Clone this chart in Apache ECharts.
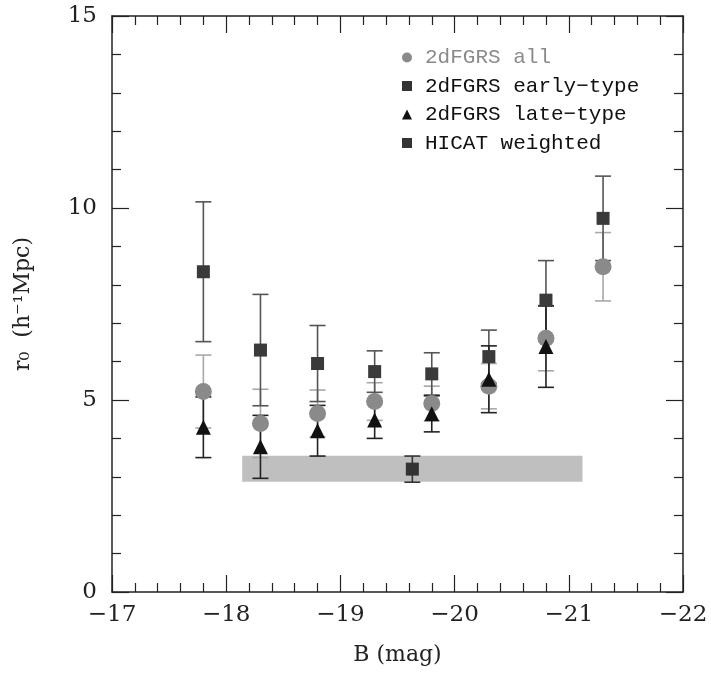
<!DOCTYPE html>
<html>
<head>
<meta charset="utf-8">
<script src="https://cdn.jsdelivr.net/npm/echarts@6/dist/echarts.min.js"></script>
<style>html,body{margin:0;padding:0;background:#fff}#c{width:711px;height:678px}</style>
</head>
<body>
<div id="c"></div>
<script>
// ---- data ----
const mags      = [-17.8, -18.3, -18.8, -19.3, -19.8, -20.3, -20.8, -21.3];
const allR0     = [5.22, 4.39, 4.65, 4.96, 4.91, 5.36, 6.61, 8.47];
const allErr    = [0.95, 0.89, 0.61, 0.49, 0.45, 0.59, 0.85, 0.89];
const earlyR0   = [8.34, 6.30, 5.95, 5.74, 5.68, 6.13, 7.60, 9.73];
const earlyErr  = [1.82, 1.45, 0.99, 0.54, 0.55, 0.69, 1.03, 1.10];
const lateMags  = [-17.8, -18.3, -18.8, -19.3, -19.8, -20.3, -20.8];
const lateR0    = [4.29, 3.78, 4.20, 4.48, 4.64, 5.54, 6.39];
const lateErr   = [0.79, 0.82, 0.66, 0.48, 0.47, 0.87, 1.06];
const hicatMag  = [-19.63];
const hicatR0   = [3.20];
const hicatErr  = [0.34];
const bandMag   = [-18.14, -21.12];
const bandR0    = [2.87, 3.55];
const xTicks    = [-17, -18, -19, -20, -21, -22];
const yTicks    = [0, 5, 10, 15];
const legendNames = ['2dFGRS all', '2dFGRS early\u2212type', '2dFGRS late\u2212type', 'HICAT weighted'];

const chart = echarts.init(document.getElementById('c'), null, {renderer: 'canvas'});

function errSeries(xs, ys, es, color, z) {
  return {
    type: 'custom', z: z, silent: true,
    data: xs.map((x, i) => [x, ys[i], es[i]]),
    renderItem: function (params, api) {
      const x = api.value(0), y = api.value(1), e = api.value(2);
      const t = api.coord([x, y + e]), b = api.coord([x, y - e]);
      const hw = 8;
      const st = {stroke: color, lineWidth: 1.6};
      return {type: 'group', children: [
        {type: 'line', shape: {x1: t[0], y1: t[1], x2: b[0], y2: b[1]}, style: st},
        {type: 'line', shape: {x1: t[0] - hw, y1: t[1], x2: t[0] + hw, y2: t[1]}, style: st},
        {type: 'line', shape: {x1: b[0] - hw, y1: b[1], x2: b[0] + hw, y2: b[1]}, style: st}
      ]};
    }
  };
}

const serif = 'DejaVu Serif';
const mono = 'Liberation Mono';
const minusFmt = v => String(v).replace('-', '\u2212');

function axisCommon(showLabels) {
  return {
    axisLine: {show: true, onZero: false, lineStyle: {color: '#222', width: 1.5}},
    axisTick: {show: true, inside: true, length: 17, lineStyle: {color: '#222', width: 1.2}},
    minorTick: {show: true, splitNumber: 5, length: 9, lineStyle: {color: '#222', width: 1.2}},
    splitLine: {show: false},
    axisLabel: {show: showLabels, color: '#222', fontFamily: serif, fontSize: 23, formatter: minusFmt}
  };
}

const option = {
  backgroundColor: '#fff',
  animation: false,
  grid: {left: 112, right: 28, top: 16, bottom: 86, containLabel: false},
  legend: {
    orient: 'vertical', left: 397, top: 42, itemGap: 7.5,
    itemWidth: 10, itemHeight: 10,
    textStyle: {fontFamily: mono, fontSize: 21, color: '#111', padding: [0, 0, 0, 8]},
    data: [
      {name: legendNames[0], icon: 'circle', itemStyle: {color: '#8a8a8a'}, textStyle: {color: '#8a8a8a'}},
      {name: legendNames[1], icon: 'rect', itemStyle: {color: '#333'}},
      {name: legendNames[2], icon: 'triangle', itemStyle: {color: '#111'}},
      {name: legendNames[3], icon: 'rect', itemStyle: {color: '#333'}}
    ]
  },
  xAxis: [
    Object.assign({type: 'value', min: -22, max: -17, interval: 1, inverse: true, position: 'bottom',
      name: 'B (mag)', nameLocation: 'middle', nameGap: 52,
      nameTextStyle: {fontFamily: serif, fontSize: 22, color: '#222'}}, axisCommon(true),
      {axisLabel: {show: true, color: '#222', fontFamily: serif, fontSize: 23, margin: 12, formatter: minusFmt}}),
    Object.assign({type: 'value', min: -22, max: -17, interval: 1, inverse: true, position: 'top'}, axisCommon(false))
  ],
  yAxis: [
    Object.assign({type: 'value', min: 0, max: 15, interval: 5, position: 'left',
      name: 'r\u2080  (h\u207B\u00B9Mpc)', nameLocation: 'middle', nameGap: 78,
      nameTextStyle: {fontFamily: serif, fontSize: 22, color: '#222'}}, axisCommon(true),
      {axisLabel: {show: true, color: '#222', fontFamily: serif, fontSize: 23, margin: 15, formatter: minusFmt}}),
    Object.assign({type: 'value', min: 0, max: 15, interval: 5, position: 'right'}, axisCommon(false))
  ],
  series: [
    {
      type: 'custom', z: 1, silent: true,
      data: [[bandMag[0], bandMag[1], bandR0[0], bandR0[1]]],
      renderItem: function (params, api) {
        const p1 = api.coord([api.value(0), api.value(3)]);
        const p2 = api.coord([api.value(1), api.value(2)]);
        return {type: 'rect', shape: {x: Math.min(p1[0], p2[0]), y: Math.min(p1[1], p2[1]),
          width: Math.abs(p2[0] - p1[0]), height: Math.abs(p2[1] - p1[1])},
          style: {fill: '#bfbfbf'}};
      }
    },
    errSeries(mags, allR0, allErr, '#a8a8a8', 2),
    errSeries(mags, earlyR0, earlyErr, '#555', 3),
    errSeries(lateMags, lateR0, lateErr, '#222', 3),
    errSeries(hicatMag, hicatR0, hicatErr, '#333', 3),
    {name: legendNames[0], type: 'scatter', z: 4, symbol: 'circle', symbolSize: 17,
      itemStyle: {color: '#8a8a8a', opacity: 1}, data: mags.map((m, i) => [m, allR0[i]])},
    {name: legendNames[2], type: 'scatter', z: 5, symbol: 'triangle', symbolSize: 15,
      itemStyle: {color: '#111', opacity: 1}, data: lateMags.map((m, i) => [m, lateR0[i]])},
    {name: legendNames[1], type: 'scatter', z: 6, symbol: 'rect', symbolSize: 13,
      itemStyle: {color: '#3a3a3a', opacity: 1}, data: mags.map((m, i) => [m, earlyR0[i]])},
    {name: legendNames[3], type: 'scatter', z: 6, symbol: 'rect', symbolSize: 13,
      itemStyle: {color: '#333', opacity: 1}, data: hicatMag.map((m, i) => [m, hicatR0[i]])}
  ]
};
chart.setOption(option);
</script>
</body>
</html>
